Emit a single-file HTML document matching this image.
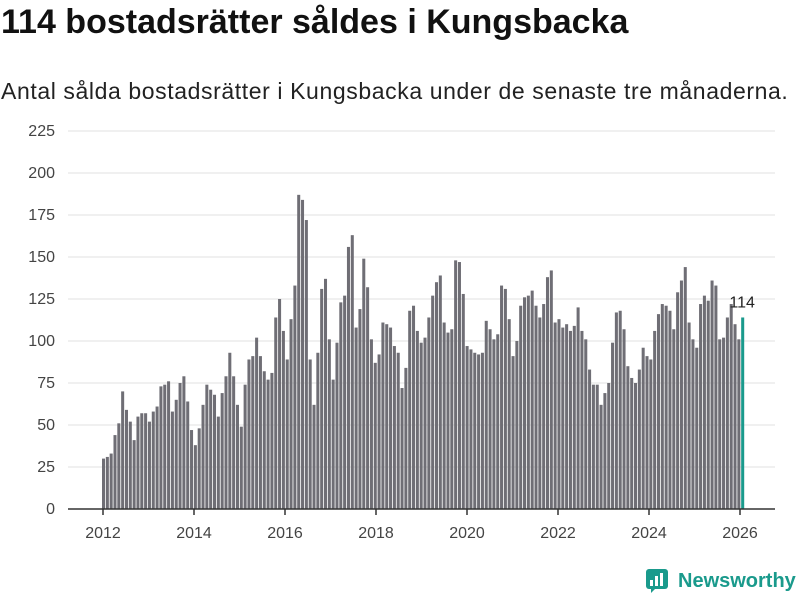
<!DOCTYPE html>
<html><head><meta charset="utf-8"><style>
body{margin:0;width:800px;height:600px;background:#fff;font-family:"Liberation Sans",sans-serif;overflow:hidden;position:relative}
h1{position:absolute;left:1px;top:3px;margin:0;font-size:34px;font-weight:bold;color:#111;white-space:nowrap}
.sub{position:absolute;left:1px;top:78px;font-size:23px;letter-spacing:0.6px;color:#222;white-space:nowrap}
.logo{position:absolute;left:645px;top:568px;display:flex;align-items:center;color:#1a9a8c;font-weight:bold;font-size:20px}
</style></head><body>
<h1>114 bostadsrätter såldes i Kungsbacka</h1>
<div class="sub">Antal sålda bostadsrätter i Kungsbacka under de senaste tre månaderna.</div>
<svg id="chart" width="800" height="560" style="position:absolute;left:0;top:0"></svg>
<div class="logo"><svg width="26" height="26" viewBox="0 0 26 26" style="margin-right:7px"><rect x="1" y="1" width="22" height="20" rx="3" fill="#1a9a8c"/><rect x="5" y="12" width="3" height="6" fill="#fff"/><rect x="10" y="8" width="3" height="10" fill="#fff"/><rect x="15" y="5" width="3" height="13" fill="#fff"/><path d="M6 21 L10 21 L6 25Z" fill="#1a9a8c"/></svg>Newsworthy</div>
<script>
const years=[2012,2014,2016,2018,2020,2022,2024,2026];
const yTicks=[0,25,50,75,100,125,150,175,200,225];
const values=[
30,31,33,44,51,70,59,52,41,55,57,57,
52,58,61,73,74,76,58,65,75,79,64,47,
38,48,62,74,71,68,55,69,79,93,79,62,
49,74,89,91,102,91,82,77,81,114,125,106,
89,113,133,187,184,172,89,62,93,131,137,101,
77,99,123,127,156,163,108,119,149,132,101,87,
92,111,110,108,97,93,72,84,118,121,106,99,
102,114,127,135,139,111,105,107,148,147,128,97,
95,93,92,93,112,107,101,104,133,131,113,91,
100,121,126,127,130,121,114,122,138,142,111,113,
108,110,106,109,120,106,101,83,74,74,62,69,
75,99,117,118,107,85,78,75,83,96,91,89,
106,116,122,121,118,107,129,136,144,111,101,96,
122,127,124,136,133,101,102,114,122,110,101,114];
const svg=document.getElementById('chart');const NS='http://www.w3.org/2000/svg';
const y0=509,yTop=131;const y=v=>y0-(v/225)*(y0-yTop);
const x0=102,x1=745;const bw=(x1-x0)/values.length;
const xYear=yr=>103+(yr-2012)*(740-103)/14;
function mk(t,a){const e=document.createElementNS(NS,t);for(const k in a)e.setAttribute(k,a[k]);svg.appendChild(e);return e;}
yTicks.forEach(t=>{
const l=mk('line',{x1:68,x2:775,y1:y(t),y2:y(t),stroke:'#e0e0e0','stroke-width':1});


const tx=mk('text',{x:55,y:y(t)+5,'text-anchor':'end','font-size':16,fill:'#444','font-family':'Liberation Sans, sans-serif'});
tx.textContent=t;


});
values.forEach((v,i)=>{
const last=i===values.length-1;
const r=mk('rect',{x:x0+i*bw,y:y(v),width:bw-0.8,height:y0-y(v),fill:last?'#1a9a8c':'#6f6e75'});


if(last){const t=mk('text',{x:x0+i*bw+1,y:y(v)-10,'text-anchor':'middle','font-size':16,fill:'#222','font-family':'Liberation Sans, sans-serif'});t.textContent=v;

}
});
const ax=mk('line',{x1:68,x2:775,y1:y0,y2:y0,stroke:'#333','stroke-width':1.5});


years.forEach(yr=>{
const tk=mk('line',{x1:xYear(yr),x2:xYear(yr),y1:y0,y2:y0+6,stroke:'#333','stroke-width':1.5});


const t=mk('text',{x:xYear(yr),y:538,'text-anchor':'middle','font-size':16,fill:'#444','font-family':'Liberation Sans, sans-serif'});t.textContent=yr;


});
</script>
</body></html>
